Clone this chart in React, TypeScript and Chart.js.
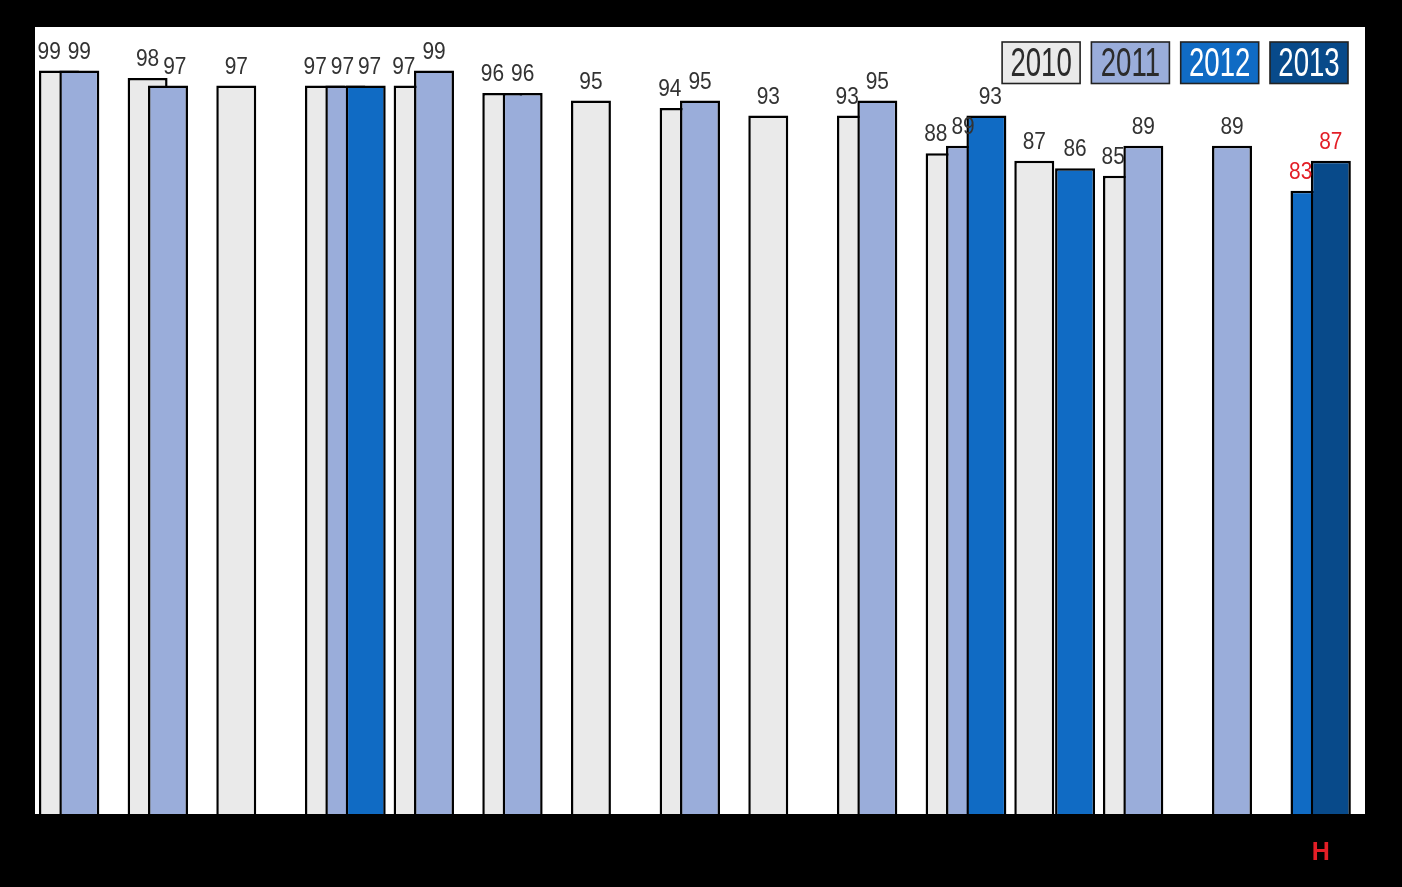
import React, { useEffect, useRef } from "react";
import { Chart, registerables } from "chart.js";

Chart.register(...registerables);

// ---- Data ----
const categories = ["", "", "", "", "", "", "", "", "", "", "", "", "", "", "H"];
const years = ["2010", "2011", "2012", "2013"];
const values2010 = [99, 98, 97, 97, 97, 96, 95, 94, 93, 93, 88, 87, 85, null, null];
const values2011 = [99, 97, null, 97, 99, 96, null, 95, null, 95, 89, null, 89, 89, null];
const values2012 = [null, null, null, 97, null, null, null, null, null, null, 93, 86, null, null, 83];
const values2013 = [null, null, null, null, null, null, null, null, null, null, null, null, null, null, 87];
const highlightCategory = "H";

// ---- Styles ----
const COLORS: Record<string, string> = {
  "2010": "#EAEAEA",
  "2011": "#9AADDA",
  "2012": "#106BC4",
  "2013": "#084A8A",
};
const LEGEND_TEXT: Record<string, string> = {
  "2010": "#2b2b2b",
  "2011": "#2b2b2b",
  "2012": "#ffffff",
  "2013": "#ffffff",
};
const RED = "#E31E26";
const FONT = "'Liberation Sans', Arial, sans-serif";

const hIdx = categories.indexOf(highlightCategory);
const onlyH = (arr: (number | null)[]) => arr.map((v, i) => (i === hIdx ? v : null));
const exceptH = (arr: (number | null)[]) => arr.map((v, i) => (i === hIdx ? null : v));

const plotBackground = {
  id: "plotBackground",
  beforeDraw(chart: any) {
    const { ctx, chartArea } = chart;
    ctx.save();
    ctx.fillStyle = "#ffffff";
    ctx.fillRect(chartArea.left, chartArea.top, chartArea.right - chartArea.left, chartArea.bottom - chartArea.top);
    ctx.restore();
  },
};

// draw datasets left-to-right so the right-hand bar of a group sits on top
const drawOrder = {
  id: "drawOrder",
  beforeDatasetsDraw(chart: any) {
    const metas = chart.getSortedVisibleDatasetMetas();
    for (const m of metas) m.controller.draw();
    return false;
  },
};

function narrowText(ctx: CanvasRenderingContext2D, text: string, x: number, y: number, sx: number) {
  ctx.save();
  ctx.translate(x, y);
  ctx.scale(sx, 1);
  ctx.fillText(text, 0, 0);
  ctx.restore();
}

const LABEL_SCALE = 0.87;

const labelsAndLegend = {
  id: "labelsAndLegend",
  afterDraw(chart: any) {
    const { ctx, chartArea } = chart;
    const metas = chart.getSortedVisibleDatasetMetas();
    ctx.save();
    ctx.font = `24px ${FONT}`;
    ctx.textAlign = "center";
    ctx.textBaseline = "alphabetic";
    for (let j = 0; j < categories.length; j++) {
      const items: any[] = [];
      metas.forEach((m: any) => {
        const v = chart.data.datasets[m.index].data[j];
        if (v === null || v === undefined) return;
        const el = m.data[j];
        const p = el.getProps(["x", "y", "width"], true);
        items.push({ v, x: p.x, y: p.y, left: p.x - p.width / 2, right: p.x + p.width / 2 });
      });
      let prevRight = -Infinity;
      items.forEach((it, k) => {
        const nx = items[k + 1];
        const r = nx && nx.v >= it.v ? nx.left : it.right;
        const txt = String(it.v);
        const half = (ctx.measureText(txt).width * LABEL_SCALE) / 2;
        let cx = (it.left + r) / 2;
        if (cx - half < prevRight + 4) cx = prevRight + 4 + half;
        prevRight = cx + half;
        ctx.fillStyle = j === hIdx ? RED : "#333333";
        narrowText(ctx, txt, cx, it.y - 12, LABEL_SCALE);
      });
    }

    // legend: boxes with the year written inside
    const boxW = 78;
    const boxH = 41.5;
    const step = 89.3;
    const x0 = chartArea.right - 17 - boxW - step * (years.length - 1);
    const y0 = chartArea.top + 15;
    years.forEach((yr, i) => {
      const x = x0 + i * step;
      ctx.fillStyle = COLORS[yr];
      ctx.fillRect(x, y0, boxW, boxH);
      ctx.lineWidth = 1.6;
      ctx.strokeStyle = "#222222";
      ctx.strokeRect(x, y0, boxW, boxH);
      ctx.font = `40px ${FONT}`;
      ctx.textAlign = "center";
      ctx.textBaseline = "middle";
      ctx.fillStyle = LEGEND_TEXT[yr];
      narrowText(ctx, yr, x + boxW / 2, y0 + boxH / 2 + 2, 0.69);
    });
    ctx.restore();
  },
};

export default function App() {
  const canvasRef = useRef<HTMLCanvasElement | null>(null);

  useEffect(() => {
    if (!canvasRef.current) return;
    const common = { borderColor: "#000000", borderWidth: 2.5 };
    const chart = new Chart(canvasRef.current, {
      type: "bar",
      data: {
        labels: categories,
        datasets: [
          { label: "2010", data: values2010, backgroundColor: COLORS["2010"], ...common },
          { label: "2012", data: onlyH(values2012), backgroundColor: COLORS["2012"], ...common },
          { label: "2011", data: values2011, backgroundColor: COLORS["2011"], ...common },
          { label: "2013", data: values2013, backgroundColor: COLORS["2013"], ...common },
          { label: "2012", data: exceptH(values2012), backgroundColor: COLORS["2012"], ...common },
        ] as any,
      },
      options: {
        animation: false,
        responsive: true,
        maintainAspectRatio: false,
        layout: { padding: { left: 35, top: 27, right: 37, bottom: 0 } },
        datasets: {
          bar: { categoryPercentage: 0.575, barPercentage: 3.92 },
        } as any,
        plugins: {
          legend: { display: false },
          tooltip: { enabled: false },
        },
        scales: {
          x: {
            grid: { display: false, drawTicks: false },
            border: { display: false },
            ticks: {
              autoSkip: false,
              maxRotation: 0,
              padding: 24,
              font: { family: FONT, size: 25, weight: "bold" },
              color: (c: any) => (c.index === hIdx ? RED : "#000000"),
            },
            afterFit: (s: any) => {
              s.height = 73;
            },
          } as any,
          y: { display: false, min: 0, max: 104.8 },
        },
      },
      plugins: [plotBackground, drawOrder, labelsAndLegend],
    });
    return () => chart.destroy();
  }, []);

  return (
    <div
      style={{
        position: "absolute",
        left: 0,
        top: 0,
        width: 1402,
        height: 887,
        background: "#000000",
      }}
    >
      <canvas ref={canvasRef} />
    </div>
  );
}
